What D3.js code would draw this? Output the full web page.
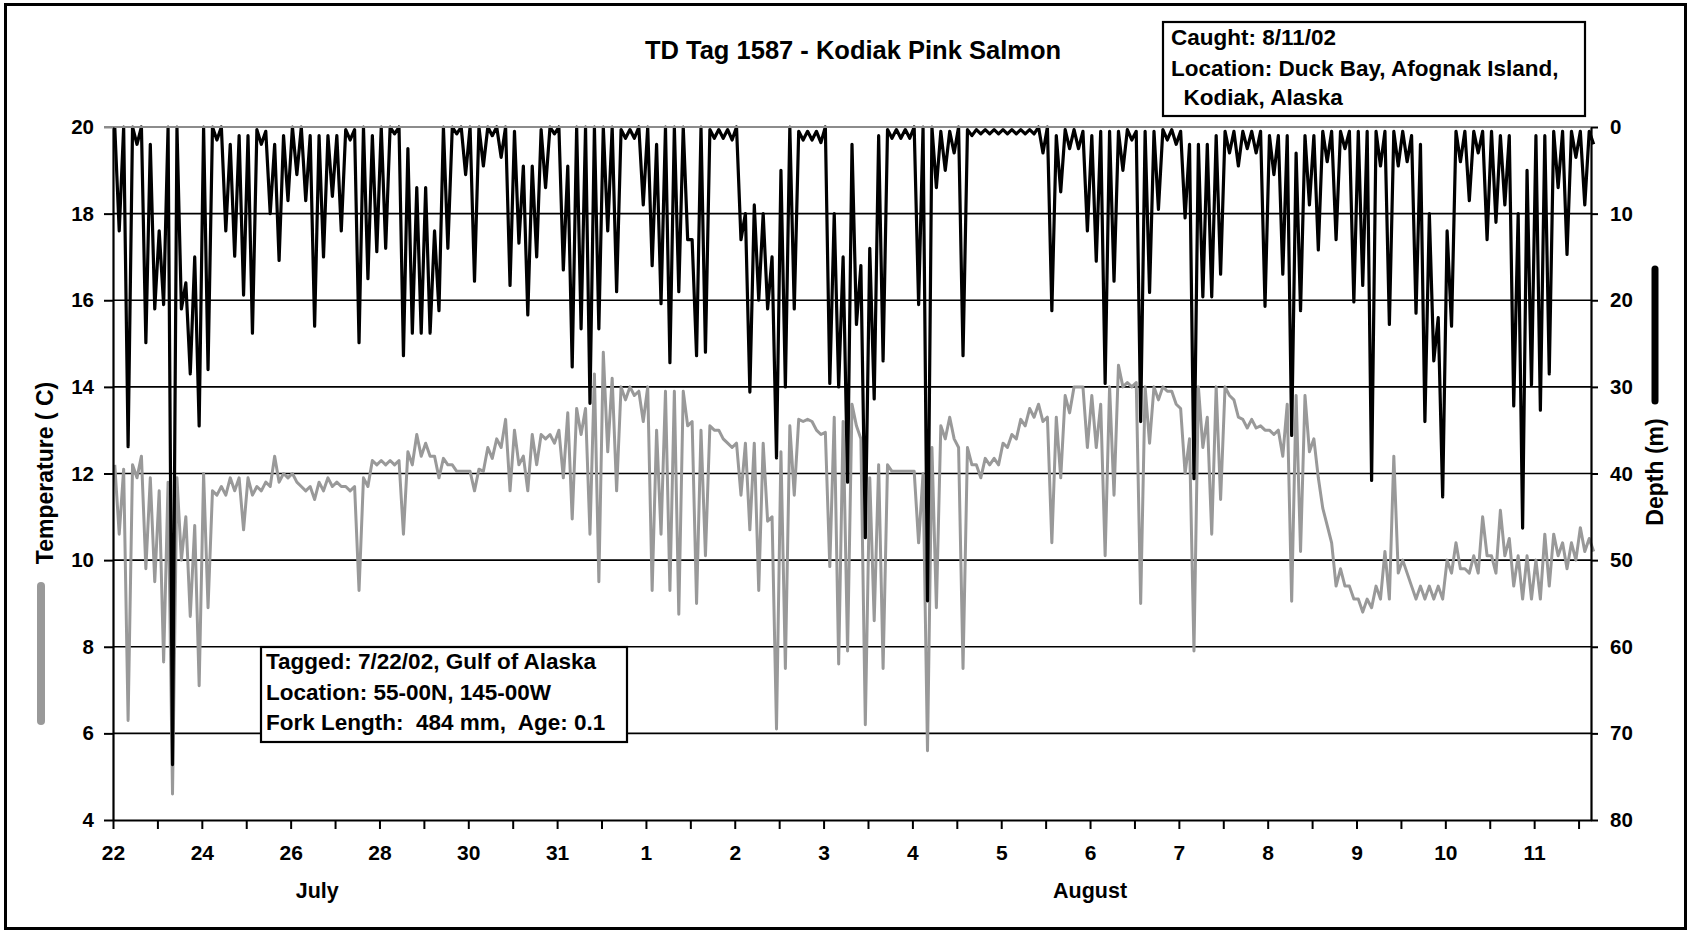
<!DOCTYPE html>
<html>
<head>
<meta charset="utf-8">
<script src="https://cdn.jsdelivr.net/npm/d3@7"></script>
<style>
  body { margin: 0; background: #fff; }
  svg text { font-family: "Liberation Sans", Arial, sans-serif; font-weight: bold; fill: #000; white-space: pre; }
</style>
</head>
<body>
<div id="chart"></div>
<script>
// one reading pair every 0.1 of a label step (labels are 2 days apart up to 30 Jul, 1 day after)
const step = 0.1;
const dayLabels = ["22", "24", "26", "28", "30", "31", "1", "2", "3", "4", "5", "6", "7", "8", "9", "10", "11"];
const monthLabels = [["July", 2.3], ["August", 11]];
const tempTicks = [4, 6, 8, 10, 12, 14, 16, 18, 20];
const depthTicks = [0, 10, 20, 30, 40, 50, 60, 70, 80];

// depth (m): shallowest and deepest reading in each slot
const depthShallow = [
  0, 0, 0, 0, 2, 12, 0, 0, 18, 15,
  0, 0, 0, 2, 1, 1, 0.3, 0.5, 2, 1,
  0, 0, 1, 1, 1, 1, 0.3, 0.3, 0, 1,
  0, 0, 0, 2.5, 7, 7, 12, 0, 0, 0,
  0, 0, 0, 0, 0, 0.5, 4.5, 4.5, 0.3, 0,
  0, 4.5, 0, 0, 0, 0, 0, 0.3, 0.3, 0,
  0, 2, 0, 0, 0, 13, 0, 0.3, 0.3, 0.3,
  0, 10, 9, 10, 15, 5, 0, 0.5, 0.5, 0.5,
  0, 10, 15, 2, 16, 14, 1, 0.3, 0.3, 0.3,
  0, 0, 0, 0.5, 0.5, 0, 0.3, 0.3, 0.3, 0.3,
  0.3, 0.3, 0.3, 0.3, 0, 0, 1, 0.3, 0.3, 0.5,
  1, 0.5, 0.5, 0.5, 0.3, 0.5, 0.5, 0.5, 0.3, 0.3,
  0.5, 2, 2, 2, 1, 0.5, 0.5, 0.5, 0.5, 0.5,
  1, 1, 1, 3, 1, 1, 0.5, 0.5, 0.5, 0.5,
  0.5, 0.5, 0.5, 0.5, 0.5, 0.5, 1, 2, 10, 22,
  12, 0.5, 0.5, 0.5, 0.5, 0.5, 1, 1, 10, 5,
  1, 1, 0.5, 0.5, 0.5, 0.5, 0.5
];
const depthDeep = [
  12, 36.9, 2, 24.9, 21, 20.5, 73.6, 21, 28.5, 34.5,
  28, 1.5, 12, 14.9, 19.4, 23.8, 2, 10, 15.4, 8.5,
  5.5, 8.5, 23, 15, 8, 12, 1.5, 24.9, 17.5, 14.4,
  14, 0.8, 26.4, 23.8, 23.8, 23.8, 21.2, 14, 0.8, 5.5,
  17.8, 4.5, 1, 3.5, 18.3, 13.4, 21.7, 15, 7, 0.8,
  16.5, 27.7, 23.3, 31.9, 23.3, 12, 19, 1.3, 1.3, 9,
  16, 20.4, 27.2, 19, 13, 26.4, 26, 1.3, 1.3, 1.5,
  13, 30.6, 20, 21, 38.2, 30, 21, 1.5, 1.5, 1.8,
  29.6, 30, 41, 22.8, 47.4, 31.4, 27, 1.3, 1.3, 1.3,
  20.5, 54.7, 7, 5, 3, 26.4, 1, 0.8, 0.8, 0.8,
  0.8, 0.8, 0.8, 0.8, 3, 21.2, 7.5, 2.5, 2.5, 12,
  15.5, 29.6, 17.8, 5, 1.5, 34, 19.1, 9.5, 1.5, 2,
  10.5, 40.6, 19.6, 19.6, 17, 3, 4.5, 2.5, 3, 20.7,
  5.5, 17, 35.6, 21.2, 9, 14.2, 4, 13, 2.5, 20.2,
  18.3, 40.8, 4.5, 22.8, 4.5, 4, 21.5, 34, 27, 42.7,
  23, 4, 8.5, 3, 13, 11, 9, 32.2, 46.3, 29.8,
  32.7, 28.5, 7, 14.7, 3.5, 9, 2
];

// temperature (C): warmest and coldest reading in each slot
const tempHigh = [
  12.2, 12.1, 12.2, 12.4, 11.9, 11.6, 11.8, 11.9, 11.0, 10.8,
  12.0, 11.6, 11.7, 11.9, 11.9, 11.9, 11.7, 11.8, 12.4, 12.0,
  12.0, 11.7, 11.7, 11.8, 11.9, 11.8, 11.7, 11.7, 11.9, 12.3,
  12.3, 12.3, 12.3, 12.5, 12.9, 12.7, 12.4, 12.35, 12.2, 12.05,
  12.05, 12.1, 12.6, 12.8, 13.25, 13.0, 12.4, 12.9, 12.9, 12.9,
  13.0, 13.4, 13.5, 13.5, 14.3, 14.8, 14.2, 14.0, 14.0, 13.9,
  14.0, 13.0, 13.9, 13.9, 13.9, 13.2, 13.0, 13.1, 13.0, 12.7,
  12.7, 12.7, 12.7, 12.7, 11.0, 12.5, 13.1, 13.25, 13.25, 13.0,
  12.95, 13.3, 13.2, 13.6, 12.8, 11.9, 12.2, 12.2, 12.05, 12.05,
  12.05, 12.0, 12.6, 13.1, 13.3, 12.6, 12.6, 12.2, 12.35, 12.35,
  12.7, 12.9, 13.25, 13.5, 13.6, 13.3, 13.3, 13.8, 14.0, 14.0,
  13.8, 13.6, 14.0, 14.5, 14.1, 14.1, 14.0, 14.0, 14.0, 13.9,
  13.5, 12.8, 14.0, 13.3, 14.0, 14.0, 13.7, 13.25, 13.25, 13.1,
  13.0, 13.0, 13.6, 13.8, 13.8, 12.8, 11.2, 10.4, 9.8, 9.4,
  9.1, 9.1, 9.4, 10.2, 12.4, 10.0, 9.4, 9.4, 9.4, 9.4,
  10.0, 10.4, 9.8, 10.1, 11.0, 10.1, 11.15, 10.5, 10.1, 10.1,
  10.0, 10.6, 10.6, 10.4, 10.4, 10.75, 10.5
];
const tempLow = [
  10.6, 6.3, 11.9, 9.8, 9.5, 7.65, 4.6, 10.0, 8.7, 7.1,
  8.9, 11.5, 11.5, 11.6, 10.7, 11.5, 11.6, 11.7, 11.8, 11.9,
  11.8, 11.6, 11.4, 11.6, 11.7, 11.7, 11.6, 9.3, 11.7, 12.2,
  12.2, 12.2, 10.6, 12.2, 12.4, 12.4, 11.9, 12.2, 12.05, 12.05,
  11.6, 12.05, 12.35, 12.6, 11.6, 12.2, 11.6, 12.2, 12.8, 12.7,
  11.9, 10.95, 12.9, 10.6, 9.5, 12.5, 11.6, 13.7, 13.8, 13.2,
  9.3, 10.6, 9.3, 8.75, 13.1, 9.0, 10.1, 13.0, 12.8, 12.6,
  11.5, 10.7, 9.3, 10.9, 6.1, 7.5, 11.5, 13.2, 13.2, 12.9,
  9.85, 7.6, 7.9, 13.1, 6.2, 8.6, 7.5, 12.05, 12.05, 12.05,
  10.4, 5.6, 8.9, 12.8, 12.8, 7.5, 12.2, 11.9, 12.2, 12.2,
  12.6, 12.8, 13.1, 13.3, 13.2, 10.4, 11.9, 13.4, 14.0, 12.6,
  12.6, 10.1, 11.5, 14.0, 14.0, 9.0, 12.7, 13.7, 13.9, 13.6,
  12.0, 7.9, 12.6, 10.6, 11.4, 13.8, 13.3, 13.05, 13.05, 13.0,
  12.9, 12.4, 9.05, 10.2, 12.5, 11.9, 10.8, 9.4, 9.4, 9.1,
  8.8, 8.9, 9.1, 9.1, 9.7, 9.7, 9.1, 9.1, 9.1, 9.1,
  9.7, 9.8, 9.7, 9.7, 10.1, 9.7, 10.1, 9.4, 9.1, 9.1,
  9.1, 9.4, 10.1, 9.8, 10.0, 10.2, 10.2
];

const width = 1690, height = 931;
const plot = {left: 113, right: 1591, top: 127, bottom: 820};

const svg = d3.select("#chart").append("svg")
  .attr("width", width)
  .attr("height", height);

// outer frame
svg.append("rect")
  .attr("x", 5.5).attr("y", 4.5)
  .attr("width", 1680).attr("height", 924)
  .attr("fill", "none").attr("stroke", "#000").attr("stroke-width", 3);

let x = d3.scaleLinear().domain([0, 16.64]).range([plot.left, plot.right]);
let yTemp = d3.scaleLinear().domain([4, 20]).range([plot.bottom, plot.top]);
let yDepth = d3.scaleLinear().domain([0, 80]).range([plot.top, plot.bottom]);

// gridlines
svg.append("g").selectAll("line")
  .data(tempTicks.filter(d => d > 4 && d < 20))
  .enter().append("line")
  .attr("x1", plot.left).attr("x2", plot.right)
  .attr("y1", d => yTemp(d)).attr("y2", d => yTemp(d))
  .attr("stroke", "#000").attr("stroke-width", 1.6);

// shallow reading then deep reading inside every slot
function zigzag(first, second) {
  let pts = [];
  first.forEach((v, i) => {
    pts.push([i * step + 0.02, v]);
    pts.push([i * step + 0.07, second[i]]);
  });
  return pts;
}

svg.append("path")
  .datum(zigzag(tempHigh, tempLow))
  .attr("fill", "none")
  .attr("stroke", "#999999")
  .attr("stroke-width", 3)
  .attr("stroke-linejoin", "round")
  .attr("d", d3.line().x(d => x(d[0])).y(d => yTemp(d[1])));

svg.append("path")
  .datum(zigzag(depthShallow, depthDeep))
  .attr("fill", "none")
  .attr("stroke", "#000")
  .attr("stroke-width", 3.2)
  .attr("stroke-linejoin", "round")
  .attr("d", d3.line().x(d => x(d[0])).y(d => yDepth(d[1])));

// top edge of the plot is grey
svg.append("line")
  .attr("x1", 104).attr("x2", plot.right)
  .attr("y1", plot.top).attr("y2", plot.top)
  .attr("stroke", "#8c8c8c").attr("stroke-width", 2.2);

let styleAxis = function (g, size) {
  g.selectAll(".domain").attr("stroke", "#000").attr("stroke-width", 2.2);
  g.selectAll(".tick line").attr("stroke", "#000").attr("stroke-width", 2);
  g.selectAll(".tick text")
    .attr("fill", "#000")
    .style("font-family", "'Liberation Sans', Arial, sans-serif")
    .style("font-weight", "bold")
    .style("font-size", size + "px");
};

svg.append("g")
  .attr("transform", `translate(${plot.left},0)`)
  .call(d3.axisLeft(yTemp).tickValues(tempTicks).tickSize(9).tickSizeOuter(0).tickPadding(10))
  .call(g => styleAxis(g, 20.5))
  .call(g => g.selectAll(".tick").filter(d => d === 20).select("line").attr("stroke", "#8c8c8c"));

svg.append("g")
  .attr("transform", `translate(${plot.right},0)`)
  .call(d3.axisRight(yDepth).tickValues(depthTicks).tickSize(7).tickSizeOuter(0).tickPadding(12))
  .call(g => styleAxis(g, 20.5));

svg.append("g")
  .attr("transform", `translate(0,${plot.bottom})`)
  .call(d3.axisBottom(x)
    .tickValues(d3.range(0, 16.51, 0.5))
    .tickSize(9).tickSizeOuter(0).tickPadding(16)
    .tickFormat(d => Number.isInteger(d) ? dayLabels[d] : ""))
  .call(g => styleAxis(g, 21));

// month labels
svg.append("g").selectAll("text")
  .data(monthLabels)
  .enter().append("text")
  .attr("x", d => x(d[1]))
  .attr("y", 898)
  .attr("text-anchor", "middle")
  .style("font-size", "21.5px")
  .text(d => d[0]);

// title
svg.append("text")
  .attr("x", 853).attr("y", 59)
  .attr("text-anchor", "middle")
  .style("font-size", "25.5px")
  .text("TD Tag 1587 - Kodiak Pink Salmon");

// axis titles with their series swatches
svg.append("text")
  .attr("transform", "translate(53,473) rotate(-90)")
  .attr("text-anchor", "middle")
  .style("font-size", "23px")
  .text("Temperature ( C)");
svg.append("line")
  .attr("x1", 41).attr("x2", 41).attr("y1", 586).attr("y2", 721)
  .attr("stroke", "#999999").attr("stroke-width", 8).attr("stroke-linecap", "round");

svg.append("text")
  .attr("transform", "translate(1663,472) rotate(-90)")
  .attr("text-anchor", "middle")
  .style("font-size", "23px")
  .text("Depth (m)");
svg.append("line")
  .attr("x1", 1655).attr("x2", 1655).attr("y1", 269).attr("y2", 401)
  .attr("stroke", "#000").attr("stroke-width", 7).attr("stroke-linecap", "round");

// note boxes
function noteBox(bx, by, bw, bh, lines) {
  svg.append("rect")
    .attr("x", bx).attr("y", by).attr("width", bw).attr("height", bh)
    .attr("fill", "#fff").attr("stroke", "#000").attr("stroke-width", 2.2);
  svg.append("g").selectAll("text")
    .data(lines)
    .enter().append("text")
    .attr("x", d => d[0]).attr("y", d => d[1])
    .style("font-size", "22.5px")
    .text(d => d[2]);
}

noteBox(1163, 22, 422, 94, [
  [1171, 45, "Caught: 8/11/02"],
  [1171, 76, "Location: Duck Bay, Afognak Island,"],
  [1171, 105, "  Kodiak, Alaska"]
]);

noteBox(261, 647, 366, 95, [
  [266, 669, "Tagged: 7/22/02, Gulf of Alaska"],
  [266, 700, "Location: 55-00N, 145-00W"],
  [266, 730, "Fork Length:  484 mm,  Age: 0.1"]
]);
</script>
</body>
</html>
